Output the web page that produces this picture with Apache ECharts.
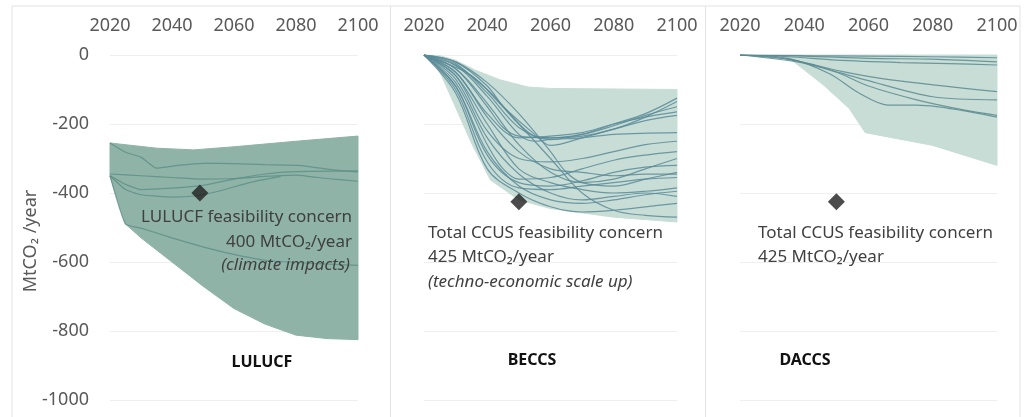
<!DOCTYPE html>
<html>
<head>
<meta charset="utf-8">
<script src="https://cdn.jsdelivr.net/npm/echarts@6/dist/echarts.min.js"></script>
<style>
html,body{margin:0;padding:0;background:#fff;}
#chart{width:1025px;height:417px;}
</style>
</head>
<body>
<div id="chart"></div>
<script>
// ---------- DATA ----------
const xTicks = [2020, 2040, 2060, 2080, 2100];
const yTicks = [0, -200, -400, -600, -800, -1000];
const panelTitles = ['LULUCF', 'BECCS', 'DACCS'];
const yAxisTitle = 'MtCO\u2082 /year';

// LULUCF range band and pathways
const lulucfUpper = [[2020,-255],[2035,-270],[2047,-275],[2060,-266],[2080,-250],[2100,-235]];
const lulucfLower = [[2020,-350],[2025,-490],[2030,-530],[2040,-600],[2050,-670],[2060,-735],[2070,-780],[2080,-812],[2090,-822],[2100,-825]];
const lulucfLineA = [[2020,-255],[2025,-282],[2030,-296],[2035,-328],[2042,-320],[2050,-314],[2060,-315],[2070,-318],[2081,-320],[2092,-333],[2100,-339]];
const lulucfLineB = [[2020,-345],[2030,-350],[2040,-355],[2050,-360],[2060,-358],[2070,-352],[2080,-348],[2090,-358],[2100,-366]];
const lulucfLineC = [[2020,-350],[2025,-375],[2030,-390],[2040,-386],[2050,-378],[2060,-360],[2070,-345],[2080,-338],[2100,-336]];
const lulucfLineD = [[2020,-350],[2025,-390],[2030,-405],[2040,-412],[2048,-408],[2055,-395],[2065,-370],[2075,-352]];
const lulucfLineE = [[2020,-350],[2025,-490],[2030,-502],[2040,-530],[2050,-556],[2060,-578],[2070,-595],[2085,-604],[2100,-610]];
const lulucfConcern = [[2049,-400]];

// BECCS range band and pathways
const beccsUpper = [[2020,0],[2025,-2],[2030,-15],[2036,-43],[2044,-72],[2053,-93],[2060,-97],[2100,-100]];
const beccsLower = [[2020,0],[2023,-10],[2027,-90],[2035,-255],[2041,-362],[2050,-420],[2060,-445],[2068,-455],[2080,-470],[2100,-484]];
const beccs01 = [[2020,0],[2030,-20],[2040,-90],[2045,-150],[2050,-200],[2055,-235],[2060,-240],[2070,-235],[2080,-215],[2090,-180],[2100,-135]];
const beccs02 = [[2020,0],[2030,-40],[2040,-150],[2045,-210],[2050,-235],[2060,-240],[2070,-230],[2080,-205],[2090,-175],[2100,-150]];
const beccs03 = [[2020,0],[2030,-50],[2040,-170],[2050,-240],[2060,-235],[2070,-225],[2080,-200],[2090,-180],[2100,-165]];
const beccs04 = [[2020,0],[2030,-30],[2040,-120],[2050,-230],[2055,-250],[2060,-245],[2070,-240],[2080,-230],[2100,-225]];
const beccs05 = [[2020,0],[2035,-60],[2045,-150],[2055,-230],[2060,-262],[2070,-240],[2080,-215],[2090,-190],[2100,-175]];
const beccs06 = [[2020,0],[2030,-80],[2040,-260],[2045,-330],[2050,-360],[2060,-355],[2070,-330],[2080,-305],[2090,-290],[2100,-280]];
const beccs07 = [[2020,0],[2030,-90],[2040,-290],[2050,-370],[2060,-380],[2070,-365],[2080,-340],[2090,-325],[2100,-320]];
const beccs08 = [[2020,0],[2030,-100],[2040,-310],[2050,-385],[2060,-390],[2070,-380],[2080,-370],[2090,-360],[2100,-355]];
const beccs09 = [[2020,0],[2030,-60],[2040,-200],[2050,-330],[2060,-370],[2070,-390],[2080,-400],[2090,-395],[2100,-385]];
const beccs10 = [[2020,0],[2030,-70],[2040,-240],[2050,-345],[2060,-400],[2070,-420],[2080,-410],[2090,-400],[2100,-410]];
const beccs11 = [[2020,0],[2030,-110],[2040,-330],[2050,-400],[2060,-440],[2070,-455],[2080,-450],[2090,-440],[2100,-430]];
const beccs12 = [[2020,0],[2030,-30],[2040,-100],[2050,-200],[2060,-300],[2070,-400],[2080,-450],[2090,-465],[2100,-470]];
const beccs13 = [[2020,0],[2030,-20],[2040,-80],[2050,-170],[2060,-280],[2065,-340],[2070,-370],[2080,-380],[2090,-360],[2100,-340]];
const beccs14 = [[2020,0],[2030,-60],[2040,-220],[2050,-300],[2060,-310],[2070,-300],[2080,-280],[2090,-260],[2100,-250]];
const beccs15 = [[2020,0],[2030,-50],[2040,-180],[2050,-280],[2060,-330],[2070,-340],[2080,-350],[2090,-345],[2100,-345]];
const beccs16 = [[2020,0],[2030,-40],[2040,-140],[2050,-260],[2060,-340],[2070,-370],[2080,-360],[2090,-330],[2100,-300]];
const beccs17 = [[2020,0],[2030,-25],[2040,-110],[2050,-210],[2060,-245],[2070,-230],[2080,-200],[2090,-170],[2100,-125]];
const beccs18 = [[2020,0],[2030,-90],[2040,-280],[2050,-380],[2060,-420],[2070,-430],[2080,-420],[2090,-405],[2100,-395]];
const beccsConcern = [[2050,-425]];

// DACCS range band and pathways
const daccsUpper = [[2020,0],[2100,0]];
const daccsLower = [[2020,0],[2028,-2],[2036,-14],[2046,-87],[2054,-155],[2059,-225],[2080,-262],[2100,-320]];
const daccsA = [[2020,0],[2040,-2],[2060,-3],[2080,-5],[2100,-8]];
const daccsB = [[2020,0],[2035,-5],[2050,-15],[2070,-22],[2085,-25],[2100,-29]];
const daccsC = [[2020,0],[2036,-14],[2052,-48],[2067,-72],[2100,-106]];
const daccsD = [[2020,0],[2040,-24],[2059,-72],[2080,-121],[2100,-130]];
const daccsE = [[2020,0],[2035,-10],[2048,-55],[2057,-110],[2066,-145],[2075,-145],[2100,-180]];
const daccsF = [[2020,0],[2035,-12],[2050,-50],[2060,-90],[2075,-130],[2090,-160],[2100,-175]];
const daccsG = [[2020,0],[2040,-3],[2060,-10],[2080,-12],[2100,-20]];
const daccsConcern = [[2050,-425]];

// ---------- CHART ----------
const FONT = '"Noto Sans", "Open Sans", sans-serif';
const chart = echarts.init(document.getElementById('chart'), null, {renderer: 'canvas'});

const grids = [
  {left: 110, width: 248, top: 55, height: 345},
  {left: 424, width: 253, top: 55, height: 345},
  {left: 740, width: 257, top: 55, height: 345}
];

function xAxis(i) {
  return {
    gridIndex: i, type: 'value', position: 'top', min: xTicks[0], max: xTicks[xTicks.length - 1], interval: 20,
    axisLine: {show: false}, axisTick: {show: false}, splitLine: {show: false},
    axisLabel: {fontFamily: FONT, fontSize: 18, color: '#595959', margin: 20, formatter: v => String(v)}
  };
}
function yAxis(i) {
  return {
    gridIndex: i, type: 'value', min: yTicks[yTicks.length - 1], max: yTicks[0], interval: 200,
    axisLine: {show: false}, axisTick: {show: false},
    splitLine: {show: true, lineStyle: {color: '#efefef', width: 1}},
    axisLabel: {show: i === 0, fontFamily: FONT, fontSize: 18, color: '#595959', margin: 21, formatter: v => String(v)}
  };
}

function band(i, upper, lower, color) {
  return {
    type: 'custom', xAxisIndex: i, yAxisIndex: i, silent: true, z: 1,
    data: [[2020, 0]],
    renderItem: function (params, api) {
      const pts = upper.map(p => api.coord(p)).concat(lower.slice().reverse().map(p => api.coord(p)));
      return {type: 'polygon', shape: {points: pts}, style: {fill: color, stroke: color, lineWidth: 1}};
    }
  };
}
function line(i, data, color, smooth) {
  return {
    type: 'line', xAxisIndex: i, yAxisIndex: i, data: data, showSymbol: false, silent: true,
    smooth: smooth, z: 2,
    lineStyle: {color: color, width: 1.2, opacity: 0.85}
  };
}
function diamond(i, data) {
  return {
    type: 'scatter', xAxisIndex: i, yAxisIndex: i, data: data, symbol: 'diamond',
    symbolSize: [17, 17], itemStyle: {color: '#1f1f1f'}, z: 5, silent: true
  };
}

const lulucfLines = [lulucfLineA, lulucfLineB, lulucfLineC, lulucfLineD, lulucfLineE];
const beccsLines = [beccs01, beccs02, beccs03, beccs04, beccs05, beccs06, beccs07, beccs08, beccs09,
  beccs10, beccs11, beccs12, beccs13, beccs14, beccs15, beccs16, beccs17, beccs18];
const daccsLines = [daccsA, daccsB, daccsC, daccsD, daccsE, daccsF, daccsG];

const series = [];
series.push(band(0, lulucfUpper, lulucfLower, '#8fb3a7'));
lulucfLines.forEach(d => series.push(line(0, d, '#5f8f86', 0.15)));
series.push(diamond(0, lulucfConcern));
series.push(band(1, beccsUpper, beccsLower, '#c9ddd7'));
beccsLines.forEach(d => series.push(line(1, d, '#5b8b98', 0.35)));
series.push(diamond(1, beccsConcern));
series.push(band(2, daccsUpper, daccsLower, '#c9ddd7'));
daccsLines.forEach(d => series.push(line(2, d, '#5b8b90', 0.3)));
series.push(diamond(2, daccsConcern));

const txt = (x, y, t, align, extra) => ({
  type: 'text', x: x, y: y, silent: true, z: 10,
  style: Object.assign({text: t, fontFamily: FONT, fontSize: 17, fill: '#404040', align: align, verticalAlign: 'middle'}, extra || {})
});

const graphics = [
  {type: 'rect', shape: {x: 12, y: 6, width: 1008, height: 420}, style: {fill: 'none', stroke: '#e3e3e3', lineWidth: 1}, silent: true, z: 0},
  {type: 'line', shape: {x1: 390.5, y1: 6, x2: 390.5, y2: 417}, style: {stroke: '#e3e3e3', lineWidth: 1}, silent: true},
  {type: 'line', shape: {x1: 705.5, y1: 6, x2: 705.5, y2: 417}, style: {stroke: '#e3e3e3', lineWidth: 1}, silent: true},
  {type: 'text', x: 31, y: 241, rotation: Math.PI / 2, silent: true, z: 10,
    style: {text: yAxisTitle, fontFamily: FONT, fontSize: 18, fill: '#595959', align: 'center', verticalAlign: 'middle'}},
  txt(352, 217, 'LULUCF feasibility concern', 'right'),
  txt(352, 242, '400 MtCO\u2082/year', 'right'),
  txt(350, 265, '(climate impacts)', 'right', {fontStyle: 'italic'}),
  txt(428, 233, 'Total CCUS feasibility concern', 'left'),
  txt(428, 257, '425 MtCO\u2082/year', 'left'),
  txt(428, 282, '(techno-economic scale up)', 'left', {fontStyle: 'italic'}),
  txt(758, 233, 'Total CCUS feasibility concern', 'left'),
  txt(758, 257, '425 MtCO\u2082/year', 'left'),
  txt(262, 362, panelTitles[0], 'center', {fontWeight: 'bold', fill: '#111', fontSize: 16}),
  txt(532, 360, panelTitles[1], 'center', {fontWeight: 'bold', fill: '#111', fontSize: 16}),
  txt(805, 360, panelTitles[2], 'center', {fontWeight: 'bold', fill: '#111', fontSize: 16})
];

chart.setOption({
  animation: false,
  backgroundColor: '#ffffff',
  grid: grids,
  xAxis: [xAxis(0), xAxis(1), xAxis(2)],
  yAxis: [yAxis(0), yAxis(1), yAxis(2)],
  series: series,
  graphic: graphics
});
</script>
</body>
</html>
